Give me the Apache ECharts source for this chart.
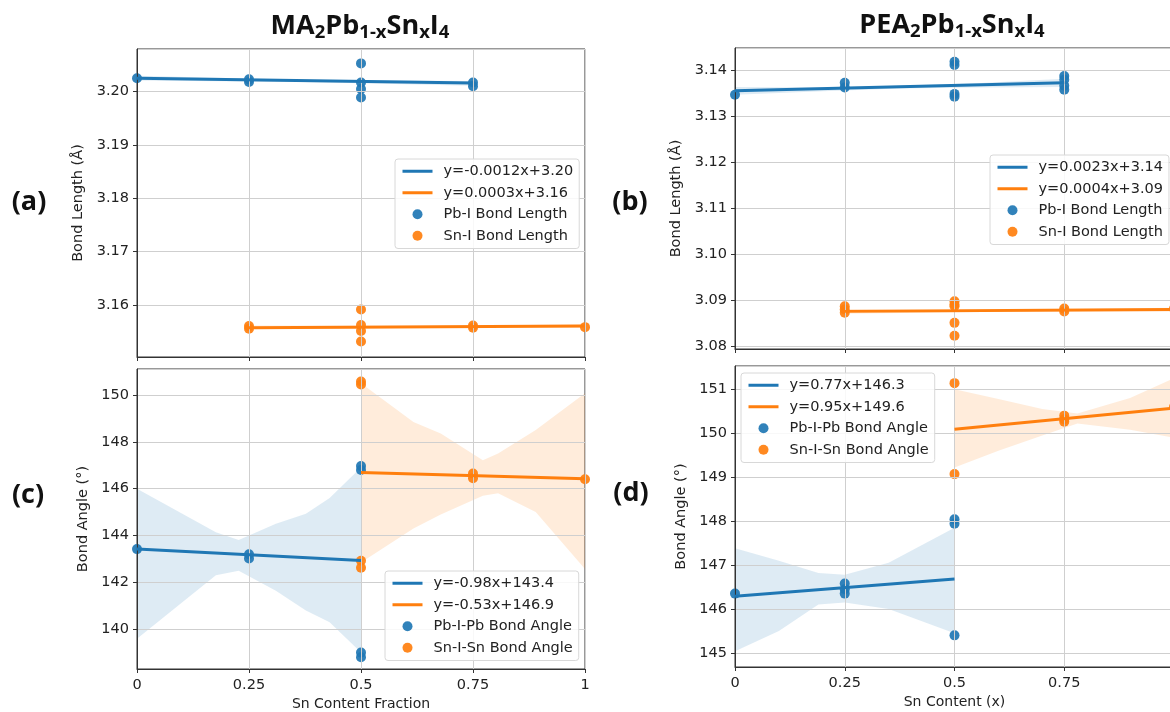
<!DOCTYPE html>
<html><head><meta charset="utf-8">
<script src="https://cdn.jsdelivr.net/npm/echarts@6/dist/echarts.min.js"></script>
<style>html,body{margin:0;padding:0;background:#fff}#c{width:1170px;height:712px}</style>
</head><body><div id="c"></div>
<script>
// ---------- data ----------
const xTicks = [0, 0.25, 0.5, 0.75, 1];

// (a) MA2 bond length
const aPbX = [0, 0.25, 0.25, 0.5, 0.5, 0.5, 0.5, 0.75, 0.75];
const aPbY = [3.2025, 3.2023, 3.2018, 3.2053, 3.2017, 3.2005, 3.1989, 3.2017, 3.2010];
const aSnX = [0.25, 0.25, 0.5, 0.5, 0.5, 0.5, 0.75, 0.75, 1];
const aSnY = [3.1560, 3.1555, 3.1591, 3.1562, 3.1551, 3.1531, 3.1561, 3.1557, 3.1558];
const aPbFitX = [0, 0.75], aPbFitY = [3.2025, 3.2016];
const aSnFitX = [0.25, 1], aSnFitY = [3.1557, 3.1560];
const aPbBandX = [0, 0.375, 0.75], aPbBandHi = [3.2030, 3.2022, 3.2020], aPbBandLo = [3.2021, 3.2018, 3.2011];
const aSnBandX = [0.25, 0.625, 1], aSnBandHi = [3.1561, 3.1560, 3.1563], aSnBandLo = [3.1554, 3.1557, 3.1557];

// (b) PEA2 bond length
const bPbX = [0, 0.25, 0.25, 0.5, 0.5, 0.5, 0.5, 0.75, 0.75, 0.75, 0.75];
const bPbY = [3.1347, 3.1373, 3.1363, 3.1419, 3.1412, 3.1349, 3.1343, 3.1388, 3.1380, 3.1367, 3.1358];
const bSnX = [0.25, 0.25, 0.25, 0.5, 0.5, 0.5, 0.5, 0.5, 0.75, 0.75, 1];
const bSnY = [3.0886, 3.0879, 3.0872, 3.0897, 3.0890, 3.0886, 3.0850, 3.0822, 3.0881, 3.0875, 3.0881];
const bPbFitX = [0, 0.75], bPbFitY = [3.1356, 3.1373];
const bSnFitX = [0.25, 1], bSnFitY = [3.0875, 3.0879];
const bPbBandX = [0, 0.2, 0.375, 0.55, 0.75], bPbBandHi = [3.1364, 3.1363, 3.1367, 3.1372, 3.1382], bPbBandLo = [3.1347, 3.1355, 3.1361, 3.1363, 3.1364];
const bSnBandX = [0.25, 0.6, 1], bSnBandHi = [3.0880, 3.0878, 3.0883], bSnBandLo = [3.0870, 3.0874, 3.0875];

// (c) MA2 bond angle
const cPbX = [0, 0.25, 0.25, 0.5, 0.5, 0.5, 0.5];
const cPbY = [143.42, 143.2, 143.02, 146.97, 146.8, 139.0, 138.8];
const cSnX = [0.5, 0.5, 0.5, 0.5, 0.75, 0.75, 1];
const cSnY = [150.58, 150.45, 142.92, 142.62, 146.65, 146.45, 146.4];
const cPbFitX = [0, 0.5], cPbFitY = [143.42, 142.93];
const cSnFitX = [0.5, 1], cSnFitY = [146.69, 146.42];
const cPbBandX = [0, 0.176, 0.227, 0.31, 0.377, 0.43, 0.5];
const cPbBandHi = [146.0, 144.14, 143.81, 144.5, 144.93, 145.6, 146.9];
const cPbBandLo = [139.59, 142.3, 142.5, 141.64, 140.8, 140.3, 139.0];
const cSnBandX = [0.5, 0.617, 0.678, 0.772, 0.806, 0.89, 1];
const cSnBandHi = [150.5, 148.85, 148.36, 147.21, 147.5, 148.5, 150.07];
const cSnBandLo = [142.85, 144.3, 144.9, 145.7, 145.8, 145.0, 142.57];

// (d) PEA2 bond angle
const dPbX = [0, 0.25, 0.25, 0.25, 0.5, 0.5, 0.5];
const dPbY = [146.35, 146.58, 146.45, 146.35, 148.04, 147.94, 145.4];
const dSnX = [0.5, 0.5, 0.75, 0.75, 0.75, 1];
const dSnY = [151.14, 149.07, 150.4, 150.32, 150.26, 150.6];
const dPbFitX = [0, 0.5], dPbFitY = [146.29, 146.68];
const dSnFitX = [0.5, 1], dSnFitY = [150.09, 150.57];
const dPbBandX = [0, 0.1, 0.19, 0.25, 0.35, 0.5];
const dPbBandHi = [147.38, 147.1, 146.82, 146.78, 147.05, 147.85];
const dPbBandLo = [145.04, 145.5, 146.1, 146.15, 146.0, 145.45];
const dSnBandX = [0.5, 0.6, 0.7, 0.78, 0.9, 1];
const dSnBandHi = [151.0, 150.78, 150.55, 150.45, 150.8, 151.25];
const dSnBandLo = [149.22, 149.6, 149.95, 150.22, 150.08, 149.9];

const yRanges = [[3.1502, 3.2080], [3.0793, 3.1449], [138.30, 151.11], [144.68, 151.53]];
const ySplit = [5, 6, 6, 6];

const legA = ['y=-0.0012x+3.20', 'y=0.0003x+3.16', 'Pb-I Bond Length', 'Sn-I Bond Length'];
const legB = ['y=0.0023x+3.14', 'y=0.0004x+3.09', 'Pb-I Bond Length', 'Sn-I Bond Length'];
const legC = ['y=-0.98x+143.4', 'y=-0.53x+146.9', 'Pb-I-Pb Bond Angle', 'Sn-I-Sn Bond Angle'];
const legD = ['y=0.77x+146.3', 'y=0.95x+149.6', 'Pb-I-Pb Bond Angle', 'Sn-I-Sn Bond Angle'];

// ---------- styling ----------
const BLUE = '#1f77b4', ORANGE = '#ff7f0e';
const BLUE_BAND = 'rgba(31,119,180,0.15)', ORANGE_BAND = 'rgba(255,127,14,0.15)';
const FONT = 'DejaVu Sans';
const SPINE = '#333';
const GRIDC = '#cfcfcf';

const grids = [
  {left: 137, width: 448, top: 49, height: 308},
  {left: 735, width: 439, top: 48, height: 301},
  {left: 137, width: 448, top: 369, height: 300},
  {left: 735, width: 439, top: 366, height: 301}
].map(g => Object.assign({show: true, borderColor: SPINE, borderWidth: 1, backgroundColor: 'transparent',
  containLabel: false, outerBoundsMode: 'none'}, g));

function xAx(i, showLabels, name) {
  return {
    gridIndex: i, type: 'value', min: 0, max: 1, interval: 0.25, z: 3,
    axisLine: {show: true, onZero: false, lineStyle: {color: SPINE, width: 1}},
    axisTick: {show: true, length: 4, lineStyle: {color: SPINE}},
    axisLabel: {show: showLabels, fontSize: 14.5, fontFamily: FONT, color: '#222', margin: 9},
    splitLine: {show: true, lineStyle: {color: GRIDC, width: 1}},
    name: name || '', nameLocation: 'middle', nameGap: 28,
    nameTextStyle: {fontSize: 14, fontFamily: FONT, color: '#222'}
  };
}
function yAx(i, dec, name, gap) {
  return {
    gridIndex: i, type: 'value', min: yRanges[i][0], max: yRanges[i][1], splitNumber: ySplit[i], z: 3,
    axisLine: {show: true, onZero: false, lineStyle: {color: SPINE, width: 1}},
    axisTick: {show: true, length: 4, lineStyle: {color: SPINE}},
    axisLabel: {fontSize: 14.5, fontFamily: FONT, color: '#222', margin: 8,
      showMinLabel: false, showMaxLabel: false,
      formatter: v => v.toFixed(dec)},
    splitLine: {show: true, lineStyle: {color: GRIDC, width: 1}},
    name: name, nameLocation: 'middle', nameGap: gap,
    nameTextStyle: {fontSize: 14.5, fontFamily: FONT, color: '#222'}
  };
}

function band(gi, xs, hi, lo, color) {
  return {
    type: 'custom', xAxisIndex: gi, yAxisIndex: gi, z: 1, silent: true, clip: true,
    data: xs.map((x, i) => [x, hi[i], lo[i]]),
    encode: {x: 0, y: [1, 2]},
    renderItem: function (params, api) {
      if (params.dataIndex !== 0) return null;
      const pts = [];
      for (let i = 0; i < xs.length; i++) pts.push(api.coord([xs[i], hi[i]]));
      for (let i = xs.length - 1; i >= 0; i--) pts.push(api.coord([xs[i], lo[i]]));
      return {type: 'polygon', shape: {points: pts}, style: {fill: color}};
    }
  };
}
function fit(gi, name, xs, ys, color) {
  return {
    type: 'line', name: name, xAxisIndex: gi, yAxisIndex: gi, z: 5, clip: true,
    data: xs.map((x, i) => [x, ys[i]]), symbol: 'none', showSymbol: false,
    lineStyle: {color: color, width: 3}, itemStyle: {color: color}, silent: true
  };
}
function pts(gi, name, xs, ys, color) {
  return {
    type: 'scatter', name: name, xAxisIndex: gi, yAxisIndex: gi, z: 2, clip: true,
    data: xs.map((x, i) => [x, ys[i]]), symbol: 'circle', symbolSize: 10,
    itemStyle: {color: color, opacity: 0.92}, silent: true
  };
}
function legend(data, left, top) {
  return {
    data: data.map((n, i) => i < 2 ? {name: n, itemStyle: {opacity: 0}, lineStyle: {width: 3}} : {name: n, icon: 'circle'}),
    orient: 'vertical', left: left, top: top, itemWidth: 30, itemHeight: 10, itemGap: 0,
    padding: [1.5, 6, 2, 6], backgroundColor: 'rgba(255,255,255,0.85)',
    borderColor: '#d8d8d8', borderWidth: 1, borderRadius: 3, selectedMode: false,
    lineStyle: {width: 3},
    textStyle: {fontSize: 14.5, fontFamily: FONT, color: '#222', lineHeight: 21.5, padding: [0, 0, 0, 6]}
  };
}

const series = [
  band(0, aPbBandX, aPbBandHi, aPbBandLo, BLUE_BAND), band(0, aSnBandX, aSnBandHi, aSnBandLo, ORANGE_BAND),
  pts(0, legA[2], aPbX, aPbY, BLUE), pts(0, legA[3], aSnX, aSnY, ORANGE),
  fit(0, legA[0], aPbFitX, aPbFitY, BLUE), fit(0, legA[1], aSnFitX, aSnFitY, ORANGE),

  band(1, bPbBandX, bPbBandHi, bPbBandLo, BLUE_BAND), band(1, bSnBandX, bSnBandHi, bSnBandLo, ORANGE_BAND),
  pts(1, legB[2], bPbX, bPbY, BLUE), pts(1, legB[3], bSnX, bSnY, ORANGE),
  fit(1, legB[0], bPbFitX, bPbFitY, BLUE), fit(1, legB[1], bSnFitX, bSnFitY, ORANGE),

  band(2, cPbBandX, cPbBandHi, cPbBandLo, BLUE_BAND), band(2, cSnBandX, cSnBandHi, cSnBandLo, ORANGE_BAND),
  pts(2, legC[2], cPbX, cPbY, BLUE), pts(2, legC[3], cSnX, cSnY, ORANGE),
  fit(2, legC[0], cPbFitX, cPbFitY, BLUE), fit(2, legC[1], cSnFitX, cSnFitY, ORANGE),

  band(3, dPbBandX, dPbBandHi, dPbBandLo, BLUE_BAND), band(3, dSnBandX, dSnBandHi, dSnBandLo, ORANGE_BAND),
  pts(3, legD[2], dPbX, dPbY, BLUE), pts(3, legD[3], dSnX, dSnY, ORANGE),
  fit(3, legD[0], dPbFitX, dPbFitY, BLUE), fit(3, legD[1], dSnFitX, dSnFitY, ORANGE)
];

const TF = 'Open Sans';
const rich = {
  m: {fontSize: 27, fontWeight: 'bold', fontFamily: TF, fill: '#111', color: '#111', lineHeight: 32},
  s: {fontSize: 18.5, fontWeight: 'bold', fontFamily: TF, fill: '#111', color: '#111', lineHeight: 16, verticalAlign: 'bottom'}
};
function titleText(prefix) {
  return '{m|' + prefix + '}{s|2}{m|Pb}{s|1-x}{m|Sn}{s|x}{m|I}{s|4}';
}
function panelLabel(t, x, y) {
  return {type: 'text', x: x, y: y, z: 10, style: {text: t, fontSize: 27, fontWeight: 'bold', fontFamily: TF, fill: '#111', align: 'center', verticalAlign: 'middle'}};
}

const option = {
  animation: false,
  backgroundColor: '#fff',
  grid: grids,
  xAxis: [xAx(0, false), xAx(1, false), xAx(2, true, 'Sn Content Fraction'), xAx(3, true, 'Sn Content (x)')],
  yAxis: [yAx(0, 2, 'Bond Length (Å)', 51), yAx(1, 2, 'Bond Length (Å)', 51),
          yAx(2, 0, 'Bond Angle (°)', 46.5), yAx(3, 0, 'Bond Angle (°)', 46.5)],
  legend: [legend(legA, 395, 159), legend(legB, 990, 155), legend(legC, 385, 571), legend(legD, 741, 373)],
  series: series,
  graphic: [
    {type: 'text', x: 360, y: 26, z: 10, style: {text: titleText('MA'), rich: rich, align: 'center', verticalAlign: 'middle'}},
    {type: 'text', x: 952, y: 25, z: 10, style: {text: titleText('PEA'), rich: rich, align: 'center', verticalAlign: 'middle'}},
    panelLabel('(a)', 29, 202), panelLabel('(b)', 630, 202),
    panelLabel('(c)', 28, 495), panelLabel('(d)', 631, 493)
  ]
};
const chart = echarts.init(document.getElementById('c'), null, {renderer: 'canvas'});
chart.setOption(option);
</script></body></html>
